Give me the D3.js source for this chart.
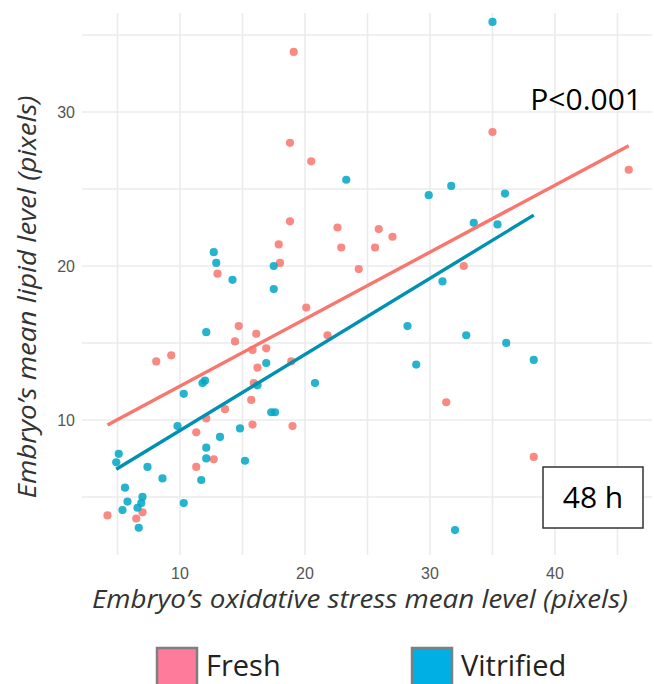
<!DOCTYPE html>
<meta charset='utf-8'>
<html>
  <style>
    body {
      margin: 0;
      background: #fff;
    }
    .grid line {
      stroke: #ebebeb;
      stroke-width: 1.6px;
    }
    text.tick {
      font-family: "Liberation Sans", Arial, sans-serif;
      font-size: 16px;
      fill: #555;
    }
    text.axistitle {
      font-family: "Open Sans", sans-serif;
      font-style: italic;
      font-size: 25px;
      fill: #333;
    }
    text.note {
      font-family: "Open Sans", sans-serif;
      font-size: 30px;
      fill: #000;
    }
    text.legend {
      font-family: "Open Sans", sans-serif;
      font-size: 29px;
      fill: #222;
    }
  </style>
  <head>
    <script src="https://cdn.jsdelivr.net/npm/d3@7/dist/d3.min.js"></script>
  </head>
  <body>
    <div id="chart"></div>
    <script type="text/javascript">
      // (pixels)
      var freshX = [19.1, 18.8, 20.5, 18.8, 17.9, 18.0, 13.0, 35.0, 45.9, 22.6, 22.9, 25.9, 25.6, 27.0,
                    24.3, 32.7, 21.8, 31.3, 38.3, 4.2, 8.1, 9.3, 14.7, 14.4, 16.1, 15.8, 16.9, 16.2,
                    18.9, 20.1, 15.9, 15.7, 13.6, 12.1, 11.3, 15.8, 19.0, 11.3, 12.7, 6.5, 7.0];
      var freshY = [33.9, 28.0, 26.8, 22.9, 21.4, 20.2, 19.5, 28.7, 26.25, 22.5, 21.2, 22.4, 21.2, 21.9,
                    19.8, 20.0, 15.5, 11.15, 7.6, 3.8, 13.8, 14.2, 16.1, 15.1, 15.6, 14.55, 14.65, 13.4,
                    13.8, 17.3, 12.4, 11.3, 10.7, 10.1, 9.2, 9.7, 9.6, 6.95, 7.45, 3.6, 4.0];
      var vitriX = [35.0, 23.3, 29.9, 31.7, 36.0, 33.5, 35.4, 31.0, 28.2, 32.9, 28.9, 36.1, 38.3, 32.0,
                    12.7, 12.9, 14.2, 17.5, 17.5, 12.1, 12.0, 11.8, 10.3, 9.8, 16.9, 16.2, 20.8, 17.3,
                    17.6, 14.8, 13.2, 12.1, 12.1, 15.2, 11.7, 10.3, 8.6, 7.4, 5.1, 4.9, 5.6, 5.8, 5.4,
                    6.6, 6.9, 7.0, 6.7];
      var vitriY = [35.85, 25.6, 24.6, 25.2, 24.7, 22.8, 22.7, 19.0, 16.1, 15.5, 13.6, 15.0, 13.9, 2.85,
                    20.9, 20.2, 19.1, 20.0, 18.5, 15.7, 12.55, 12.4, 11.7, 9.6, 13.7, 12.25, 12.4, 10.5,
                    10.5, 9.45, 8.9, 8.2, 7.5, 7.35, 6.1, 4.6, 6.2, 6.95, 7.8, 7.25, 5.6, 4.7, 4.15,
                    4.3, 4.6, 5.0, 3.0];
      // linear fits (intercept, slope)
      var freshFit = [7.85, 0.435];
      var vitriFit = [4.38, 0.494];

      var groups = ["Fresh", "Vitrified"];
      var xMajor = [10, 20, 30, 40], xMinor = [5, 15, 25, 35, 45];
      var yMajor = [10, 20, 30], yMinor = [5, 15, 25, 35];

      var pointColor = {"Fresh": "#f8766d", "Vitrified": "#00a6c4"},
          lineColor = {"Fresh": "#f8766d", "Vitrified": "#0090b2"},
          keyColor = {"Fresh": "#ff7b9c", "Vitrified": "#00b0e4"};

      var width = 654, height = 684;

      var x = d3.scaleLinear().domain([2.16, 47.76]).range([82, 652]);
      var y = d3.scaleLinear().domain([1.23, 36.43]).range([555, 13]);

      var svg = d3.select("#chart").append("svg")
        .attr("width", width)
        .attr("height", height);

      var grid = svg.append("g").attr("class", "grid");
      grid.selectAll(".vx").data(xMinor.concat(xMajor)).enter().append("line")
        .attr("x1", function(d){ return x(d); })
        .attr("x2", function(d){ return x(d); })
        .attr("y1", y.range()[0])
        .attr("y2", y.range()[1]);
      grid.selectAll(".hy").data(yMinor.concat(yMajor)).enter().append("line")
        .attr("class", "hy")
        .attr("x1", x.range()[0])
        .attr("x2", x.range()[1])
        .attr("y1", function(d){ return y(d); })
        .attr("y2", function(d){ return y(d); });

      svg.selectAll(".xt").data(xMajor).enter().append("text")
        .attr("class", "tick")
        .attr("x", function(d){ return x(d); })
        .attr("y", 579)
        .attr("text-anchor", "middle")
        .text(function(d){ return d; });

      svg.selectAll(".yt").data(yMajor).enter().append("text")
        .attr("class", "tick")
        .attr("x", 75)
        .attr("y", function(d){ return y(d); })
        .attr("dy", "0.35em")
        .attr("text-anchor", "end")
        .text(function(d){ return d; });

      svg.append("text")
        .attr("class", "axistitle")
        .attr("x", 360)
        .attr("y", 608)
        .attr("text-anchor", "middle")
        .attr("textLength", 536)
        .attr("lengthAdjust", "spacingAndGlyphs")
        .text("Embryo’s oxidative stress mean level (pixels)");

      svg.append("text")
        .attr("class", "axistitle")
        .attr("transform", "translate(36,297) rotate(-90)")
        .attr("text-anchor", "middle")
        .attr("textLength", 403)
        .attr("lengthAdjust", "spacingAndGlyphs")
        .text("Embryo’s mean lipid level (pixels)");

      var series = [
        {name: "Fresh", xs: freshX, ys: freshY, fit: freshFit},
        {name: "Vitrified", xs: vitriX, ys: vitriY, fit: vitriFit}
      ];

      series.forEach(function(s){
        var pts = s.xs.map(function(v, i){ return {x: v, y: s.ys[i]}; });
        svg.append("g").selectAll("circle").data(pts).enter().append("circle")
          .attr("cx", function(d){ return x(d.x); })
          .attr("cy", function(d){ return y(d.y); })
          .attr("r", 4.1)
          .style("fill", pointColor[s.name])
          .style("opacity", 0.85);
      });

      series.forEach(function(s){
        var ext = d3.extent(s.xs);
        var fitPts = ext.map(function(v){ return {x: v, y: s.fit[0] + s.fit[1] * v}; });
        svg.append("path")
          .datum(fitPts)
          .attr("d", d3.line().x(function(d){ return x(d.x); }).y(function(d){ return y(d.y); }))
          .style("fill", "none")
          .style("stroke", lineColor[s.name])
          .style("stroke-width", 3.4);
      });

      svg.append("text")
        .attr("class", "note")
        .attr("x", 642)
        .attr("y", 110)
        .attr("text-anchor", "end")
        .text("P<0.001");

      svg.append("rect")
        .attr("x", 543)
        .attr("y", 467)
        .attr("width", 100)
        .attr("height", 61)
        .style("fill", "#fff")
        .style("stroke", "#333")
        .style("stroke-width", 1.5);

      svg.append("text")
        .attr("class", "note")
        .attr("x", 593)
        .attr("y", 508)
        .attr("text-anchor", "middle")
        .text("48 h");

      var legendX = [157, 412];
      var legend = svg.selectAll(".legendkey").data(groups).enter().append("g")
        .attr("transform", function(d, i){ return "translate(" + legendX[i] + ",648)"; });
      legend.append("rect")
        .attr("width", 40)
        .attr("height", 40)
        .style("fill", function(d){ return keyColor[d]; })
        .style("stroke", "#7f7f7f")
        .style("stroke-width", 2.5);
      legend.append("text")
        .attr("class", "legend")
        .attr("x", 49)
        .attr("y", 28)
        .text(function(d){ return d; });
    </script>
  </body>
</html>
